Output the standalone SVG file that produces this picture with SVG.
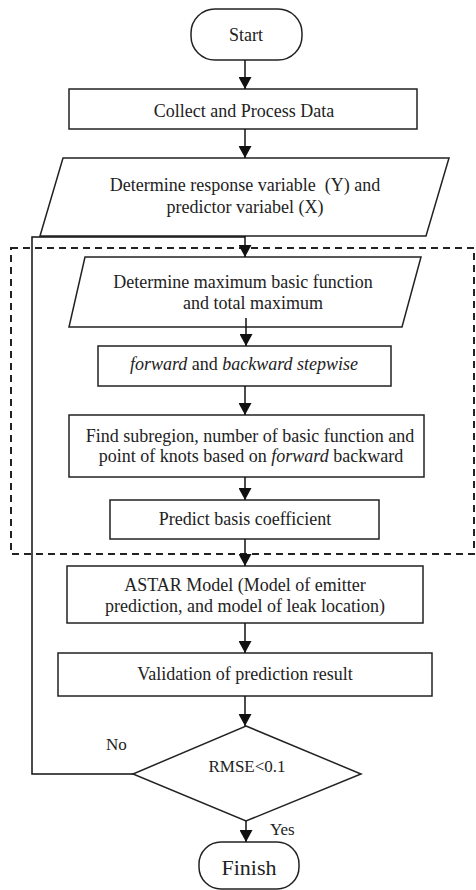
<svg xmlns="http://www.w3.org/2000/svg" width="476" height="890" viewBox="0 0 476 890">
<defs>
<marker id="ah" markerWidth="12" markerHeight="13" refX="12" refY="6.5" orient="auto" markerUnits="userSpaceOnUse">
<path d="M0,0 L12,6.5 L0,13 Z" fill="#111"/>
</marker>
<style>
.s{fill:#fff;stroke:#222;stroke-width:1.5}
.t{font-family:"Liberation Serif","Times New Roman",serif;font-size:18px;fill:#222;text-anchor:middle}
.c{fill:none;stroke:#111;stroke-width:1.5}
.d{fill:none;stroke:#222;stroke-width:2;stroke-dasharray:7,5}
</style>
</defs>
<rect width="476" height="890" fill="#fff"/>
<rect id="region" class="d" x="11" y="248" width="463" height="306"/>
<g id="start"><rect class="s" x="191" y="9" width="111" height="51" rx="24"/><text class="t" x="246" y="41">Start</text></g>
<g id="collect"><rect class="s" x="69" y="89" width="348" height="40"/><text class="t" x="244" y="117">Collect and Process Data</text></g>
<g id="determine-vars"><path class="s" d="M63,158 L449,158 L426,236 L40,236 Z"/><text class="t" x="245" y="191">Determine response variable &#160;(Y) and</text><text class="t" x="245" y="213">predictor variabel (X)</text></g>
<g id="determine-max"><path class="s" d="M85,257 L421,257 L402,327 L69,327 Z"/><text class="t" x="243" y="288">Determine maximum basic function</text><text class="t" x="253" y="309">and total maximum</text></g>
<g id="stepwise"><rect class="s" x="98" y="346" width="293" height="40"/><text class="t" x="244" y="370"><tspan font-style="italic">forward</tspan> and <tspan font-style="italic">backward stepwise</tspan></text></g>
<g id="subregion"><rect class="s" x="69" y="415" width="355" height="62"/><text class="t" x="250" y="442">Find subregion, number of basic function and</text><text class="t" x="251" y="462">point of knots based on <tspan font-style="italic">forward</tspan> backward</text></g>
<g id="coef"><rect class="s" x="110" y="500" width="269" height="39"/><text class="t" x="245" y="525">Predict basis coefficient</text></g>
<g id="astar"><rect class="s" x="67" y="566" width="356" height="57"/><text class="t" x="245" y="591">ASTAR Model (Model of emitter</text><text class="t" x="245" y="612">prediction, and model of leak location)</text></g>
<g id="validation"><rect class="s" x="58" y="653" width="374" height="43"/><text class="t" x="245" y="680">Validation of prediction result</text></g>
<g id="decision"><path class="s" d="M246,726 L361,774 L246,821 L133,774 Z"/><text class="t" x="247" y="772" style="font-size:17px">RMSE&lt;0.1</text></g>
<g id="finish"><rect class="s" x="199" y="842" width="100" height="47" rx="22"/><text class="t" x="249" y="875" style="font-size:22px">Finish</text></g>
<g id="connectors">
<line class="c" x1="245" y1="60" x2="245" y2="89" marker-end="url(#ah)"/>
<line class="c" x1="245" y1="129" x2="245" y2="158" marker-end="url(#ah)"/>
<line class="c" x1="245" y1="236" x2="245" y2="257" marker-end="url(#ah)"/>
<line class="c" x1="246" y1="318" x2="246" y2="346" marker-end="url(#ah)"/>
<line class="c" x1="245" y1="386" x2="245" y2="415" marker-end="url(#ah)"/>
<line class="c" x1="245" y1="477" x2="245" y2="500" marker-end="url(#ah)"/>
<line class="c" x1="245" y1="539" x2="245" y2="566" marker-end="url(#ah)"/>
<line class="c" x1="245" y1="623" x2="245" y2="653" marker-end="url(#ah)"/>
<line class="c" x1="245" y1="696" x2="245" y2="726" marker-end="url(#ah)"/>
<line class="c" x1="246" y1="821" x2="246" y2="842" marker-end="url(#ah)"/>
<path class="c" d="M133,774 L32,774 L32,237 L245,237"/>
<text class="t" x="106" y="750" style="text-anchor:start;font-size:17px">No</text>
<text class="t" x="270" y="835" style="text-anchor:start;font-size:17px">Yes</text>
</g>
</svg>
